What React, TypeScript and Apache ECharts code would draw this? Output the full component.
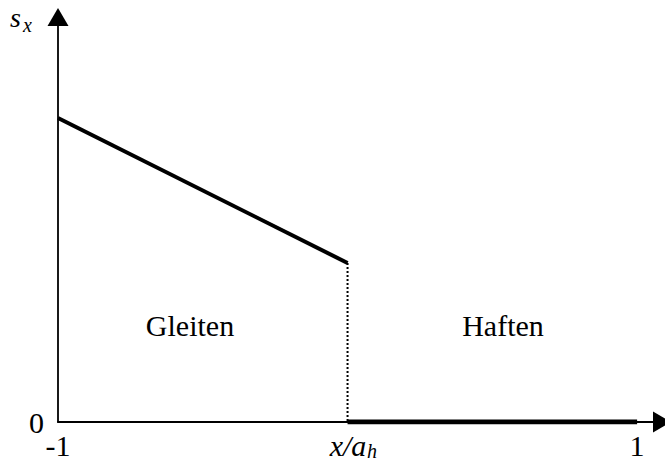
import React, { useEffect, useRef } from 'react';
import * as echarts from 'echarts';

// Shear stress s_x over the normalised contact coordinate x/a_h
const slipSegment: number[][] = [[-1, 1.0], [0, 0.523]];
const boundarySegment: number[][] = [[0, 0.523], [0, 0]];
const stickSegment: number[][] = [[0, 0], [1, 0]];

const xTickValues = [-1, 1];
const xTickTexts = ['-1', '1'];
const yTickValues = [0];
const yTickTexts = ['0'];

const boundaryMain = 'x/a';
const boundarySub = 'h';
const yNameMain = 's';
const yNameSub = 'x';
const slipLabel = 'Gleiten';
const stickLabel = 'Haften';

const FONT = 'Liberation Serif';

// Force the serif face on every SVG text node the chart produces
const fontCss =
  '#stress-chart text, #stress-chart tspan { font-family: "Liberation Serif", serif !important; }';

export default function App() {
  const ref = useRef<HTMLDivElement>(null);

  useEffect(() => {
    if (!ref.current) return;
    const chart = echarts.init(ref.current, undefined, { renderer: 'svg' });
    chart.setOption({
      animation: false,
      backgroundColor: '#fff',
      grid: { left: 58, right: 3, top: 17, bottom: 42 },
      xAxis: {
        type: 'value',
        min: -1,
        max: 1.086,
        interval: 1,
        splitLine: { show: false },
        axisTick: { show: false },
        axisLine: {
          onZero: false,
          symbol: ['none', 'triangle'],
          symbolSize: [21, 18],
          lineStyle: { color: '#000', width: 1.8 },
        },
        axisLabel: {
          margin: 8,
          color: '#000',
          fontFamily: FONT,
          fontSize: 30,
          formatter: (v: number) => {
            const i = xTickValues.indexOf(v);
            return i >= 0 ? xTickTexts[i] : '';
          },
        },
      },
      yAxis: {
        type: 'value',
        min: 0,
        max: 1.332,
        interval: 2,
        splitLine: { show: false },
        axisTick: { show: false },
        axisLine: {
          onZero: false,
          symbol: ['none', 'triangle'],
          symbolSize: [21, 18],
          lineStyle: { color: '#000', width: 1.8 },
        },
        axisLabel: {
          margin: 14,
          color: '#000',
          fontFamily: FONT,
          fontSize: 30,
          formatter: (v: number) => {
            const i = yTickValues.indexOf(v);
            return i >= 0 ? yTickTexts[i] : '';
          },
        },
      },
      graphic: [
        { type: 'text', x: 10, y: 17, style: { text: yNameMain, fontFamily: FONT, fontStyle: 'italic', fontSize: 28, fill: '#000', align: 'left', verticalAlign: 'middle' } },
        { type: 'text', x: 23, y: 25, style: { text: yNameSub, fontFamily: FONT, fontStyle: 'italic', fontSize: 20, fill: '#000', align: 'left', verticalAlign: 'middle' } },
        { type: 'text', x: 348, y: 445, style: { text: boundaryMain, fontFamily: FONT, fontStyle: 'italic', fontSize: 30, fill: '#000', align: 'center', verticalAlign: 'middle' } },
        { type: 'text', x: 367, y: 451, style: { text: boundarySub, fontFamily: FONT, fontStyle: 'italic', fontSize: 20, fill: '#000', align: 'left', verticalAlign: 'middle' } },
        { type: 'text', x: 190, y: 325, style: { text: slipLabel, fontFamily: FONT, fontSize: 30, fill: '#000', align: 'center', verticalAlign: 'middle' } },
        { type: 'text', x: 503, y: 325, style: { text: stickLabel, fontFamily: FONT, fontSize: 30, fill: '#000', align: 'center', verticalAlign: 'middle' } },
      ],
      series: [
        {
          type: 'line',
          data: slipSegment,
          symbol: 'none',
          lineStyle: { color: '#000', width: 4 },
          z: 3,
        },
        {
          type: 'line',
          data: boundarySegment,
          symbol: 'none',
          lineStyle: { color: '#000', width: 2, type: [2, 2] },
          z: 3,
        },
        {
          type: 'line',
          data: stickSegment,
          symbol: 'none',
          lineStyle: { color: '#000', width: 5 },
          z: 3,
        },
      ],
    });
    return () => chart.dispose();
  }, []);

  return (
    <>
      <style>{fontCss}</style>
      <div
        id="stress-chart"
        ref={ref}
        style={{ width: 665, height: 464, position: 'absolute', left: 0, top: 0, overflow: 'hidden' }}
      />
    </>
  );
}
